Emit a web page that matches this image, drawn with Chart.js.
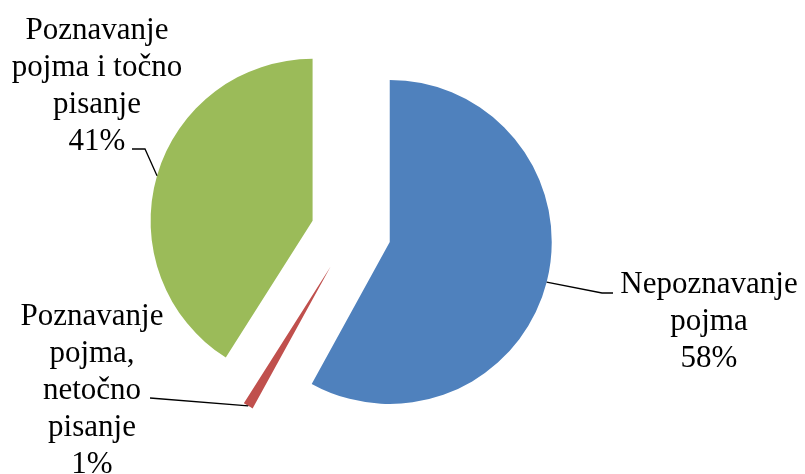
<!DOCTYPE html>
<html>
<head>
<meta charset="utf-8">
<script src="https://cdn.jsdelivr.net/npm/chart.js@4.4.0/dist/chart.umd.min.js"></script>
<style>
    html, body { margin: 0; padding: 0; background: #fff; }
    #wrap { width: 805px; height: 474px; }
</style>
</head>
<body>
<div id="wrap"><canvas id="chart"></canvas></div>
<script>
// data
const categories = ['Nepoznavanje pojma', 'Poznavanje pojma, netočno pisanje', 'Poznavanje pojma i točno pisanje'];
const values = [58, 1, 41];
const labelLines = [
    ['Nepoznavanje', 'pojma'],
    ['Poznavanje', 'pojma,', 'netočno', 'pisanje'],
    ['Poznavanje', 'pojma i točno', 'pisanje'],
];

// styling / layout
const sliceColors = ['#4F81BD', '#C0504D', '#9BBB59'];
const EXPLODE = 40;
const FONT = '31px "Liberation Serif", "Times New Roman", serif';
const LINE_H = 37;
const labelLayout = [
    { x: 709, y: 293, elbow: [602, 293], end: [613, 293] },
    { x: 92, y: 325, elbow: null, end: [150, 398] },
    { x: 97, y: 39, elbow: [145, 149], end: [132, 149] },
];

// move every slice out from the pie centre along its middle angle
const explodePlugin = {
    id: 'explode',
    afterDatasetUpdate(chart, args) {
        const area = chart.chartArea;
        const cx = (area.left + area.right) / 2;
        const cy = (area.top + area.bottom) / 2;
        args.meta.data.forEach(arc => {
            const mid = (arc.startAngle + arc.endAngle) / 2;
            arc.x = cx + Math.cos(mid) * EXPLODE;
            arc.y = cy + Math.sin(mid) * EXPLODE;
        });
    },
};

const labelPlugin = {
    id: 'sliceLabels',
    afterDraw(chart) {
        const ctx = chart.ctx;
        const arcs = chart.getDatasetMeta(0).data;
        const total = values.reduce((a, b) => a + b, 0);
        ctx.save();
        ctx.strokeStyle = '#000';
        ctx.lineWidth = 1.3;
        ctx.fillStyle = '#000';
        ctx.font = FONT;
        ctx.textAlign = 'center';
        ctx.textBaseline = 'alphabetic';
        arcs.forEach((arc, i) => {
            const lay = labelLayout[i];
            const mid = (arc.startAngle + arc.endAngle) / 2;
            const sx = arc.x + Math.cos(mid) * arc.outerRadius;
            const sy = arc.y + Math.sin(mid) * arc.outerRadius;
            ctx.beginPath();
            ctx.moveTo(sx, sy);
            if (lay.elbow) ctx.lineTo(lay.elbow[0], lay.elbow[1]);
            ctx.lineTo(lay.end[0], lay.end[1]);
            ctx.stroke();
            const lines = [...labelLines[i], Math.round(values[i] / total * 100) + '%'];
            lines.forEach((t, k) => ctx.fillText(t, lay.x, lay.y + k * LINE_H));
        });
        ctx.restore();
    },
};

new Chart(document.getElementById('chart').getContext('2d'), {
    type: 'pie',
    data: {
        labels: categories,
        datasets: [{ data: values, backgroundColor: sliceColors, borderWidth: 0 }],
    },
    options: {
        responsive: true,
        maintainAspectRatio: false,
        animation: false,
        events: [],
        radius: 162,
        layout: { padding: { left: 0, right: 103, top: 0, bottom: 10 } },
        plugins: {
            legend: { display: false },
            tooltip: { enabled: false },
        },
    },
    plugins: [explodePlugin, labelPlugin],
});
</script>
</body>
</html>
